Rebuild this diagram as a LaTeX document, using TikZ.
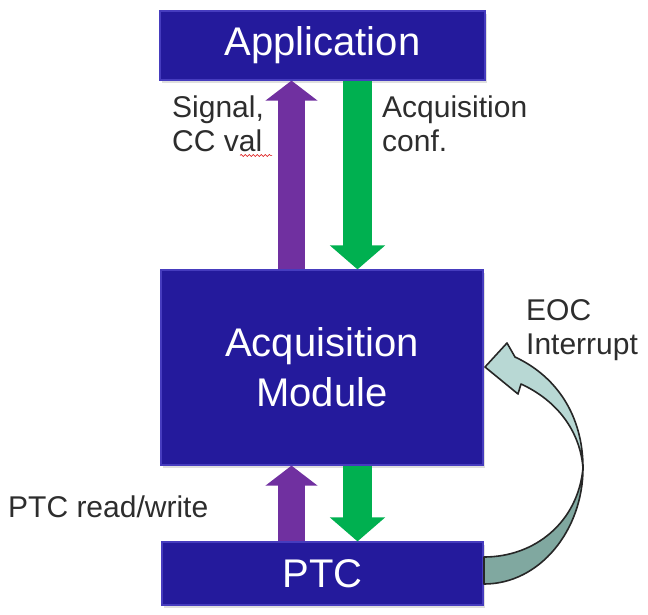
\documentclass[tikz,border=0pt]{standalone}
\usepackage{fontspec}
\setmainfont{Liberation Sans}
\usetikzlibrary{arrows.meta,shadows,decorations.pathmorphing,calc}
\definecolor{boxblue}{RGB}{36,26,156}
\definecolor{boxedge}{RGB}{70,60,190}
\definecolor{arrpurple}{RGB}{112,48,160}
\definecolor{arrgreen}{RGB}{0,176,80}
\definecolor{curvelight}{RGB}{184,216,212}
\definecolor{curvedark}{RGB}{128,168,160}
\definecolor{labelgray}{RGB}{45,45,45}
\begin{document}
\begin{tikzpicture}[x=1pt,y=-1pt,
  box/.style={fill=boxblue, draw=boxedge, line width=1.2pt, text=white,
    font=\fontsize{40}{50}\selectfont, align=center, inner sep=0pt,
    drop shadow={opacity=0.25, shadow xshift=2pt, shadow yshift=-3pt}},
  lbl/.style={text=labelgray, font=\fontsize{30}{34}\selectfont, align=left, inner sep=0pt},
  uparrow/.style={draw=arrpurple, line width=27pt,
    -{Triangle[width=51pt,length=20pt]}},
  downarrow/.style={draw=arrgreen, line width=29pt,
    -{Triangle[width=54pt,length=24pt]}},
  curveband/.style={draw=black!85, line width=1.6pt, line join=round}
]
\useasboundingbox (0,0) rectangle (648,614);

% boxes
\node[box, minimum width=325pt, minimum height=69pt] (app) at (322.5,45.5) {Application};
\node[box, minimum width=322pt, minimum height=195pt] (mod) at (322,367.5) {Acquisition\\Module};
\node[box, minimum width=321pt, minimum height=63pt] (ptc) at (322.5,573.5) {PTC};

% arrow columns
\coordinate (pcol) at (291.5,0);
\coordinate (gcol) at (357.5,0);

% block arrows
\draw[uparrow] (pcol |- mod.north) -- (pcol |- app.south);
\draw[downarrow] (gcol |- app.south) -- (gcol |- mod.north);
\draw[uparrow] (pcol |- ptc.north) -- (pcol |- mod.south);
\draw[downarrow] (gcol |- mod.south) -- (gcol |- ptc.north);

% curved EOC interrupt arrow
\coordinate (rmost) at (583,468);
\filldraw[curveband, fill=curvedark]
  (rmost) .. controls (583,530) and (540,584) .. (484,584)
  -- (484,557) .. controls (535,557) and (578,522) .. (rmost) -- cycle;
\filldraw[curveband, fill=curvelight]
  (rmost) .. controls (583,415) and (556,376) .. (515,357)
  -- (507,343) -- (485,367) -- (518,394) -- (521,384)
  .. controls (556,400) and (580,430) .. (rmost) -- cycle;

% labels
\node[lbl, anchor=north west] (sig) at (172,96) {Signal,\\CC val};
\draw[red!85!black, line width=0.6pt, decorate,
  decoration={snake, amplitude=1pt, segment length=4pt}]
  ($(sig.south west)+(68,3)$) -- ($(sig.south west)+(100,3)$);
\node[lbl, anchor=north west] (acq) at (382,96) {Acquisition\\conf.};
\node[lbl, anchor=north west] (eoc) at (526,299) {EOC\\Interrupt};
\node[lbl, anchor=base west] (rw) at (8,517) {PTC read/write};
\end{tikzpicture}
\end{document}
